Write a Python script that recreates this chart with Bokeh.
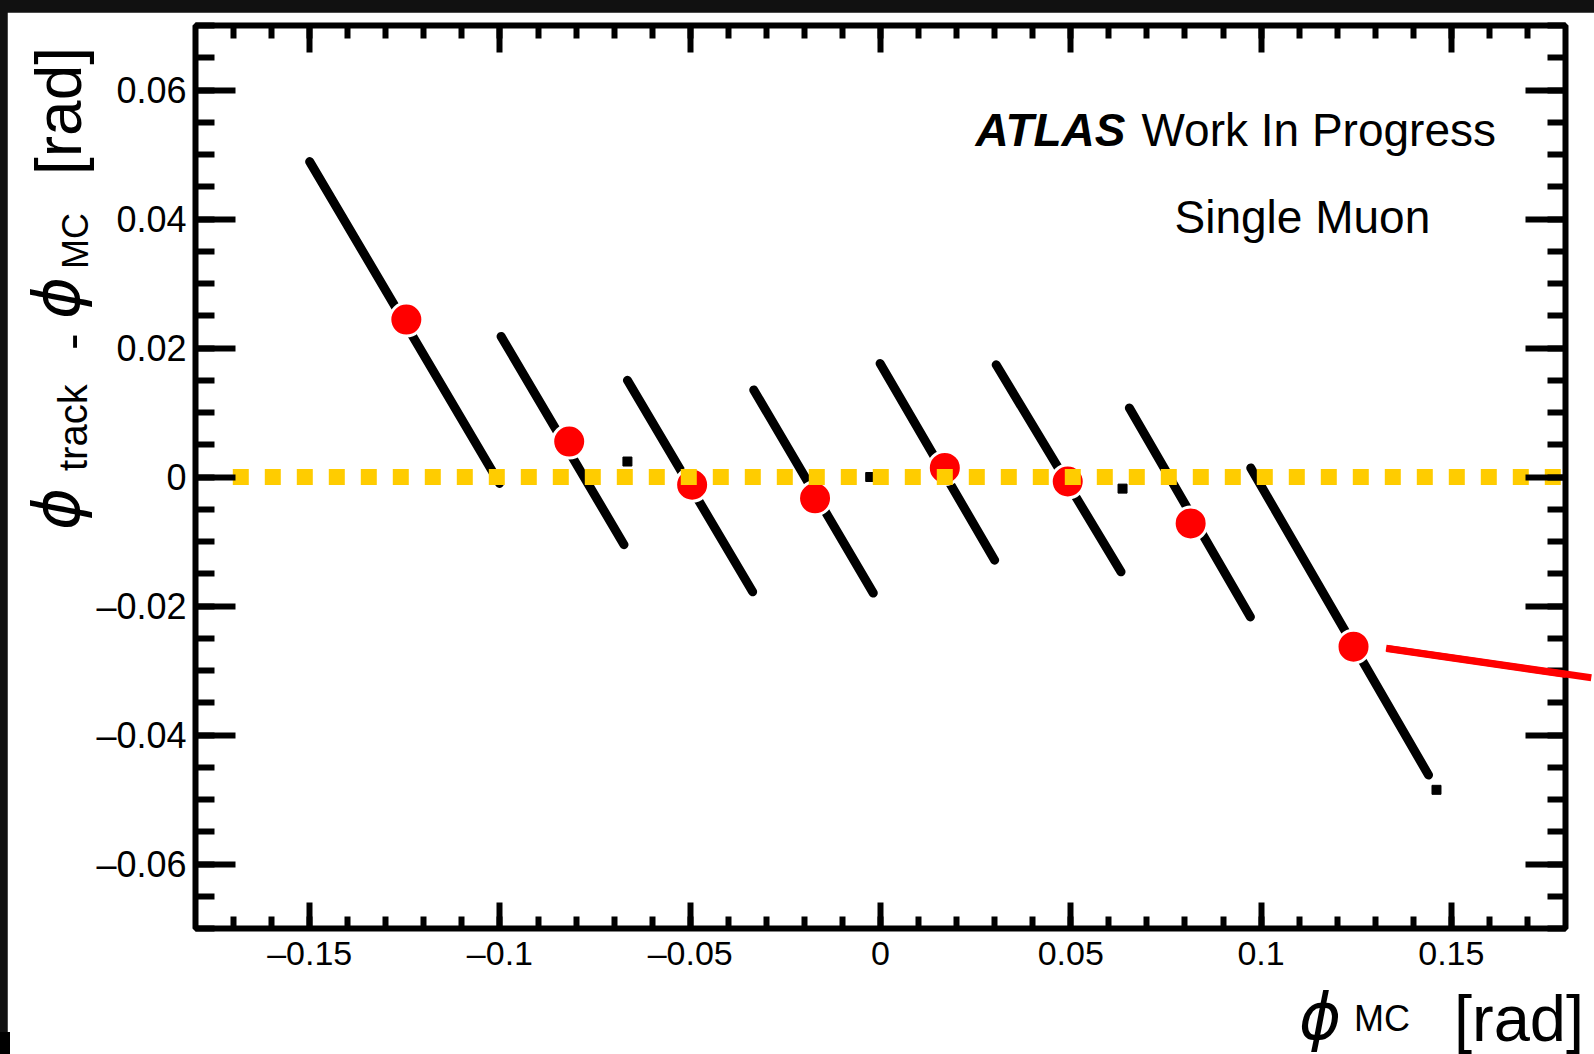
import math
from bokeh.plotting import figure
from bokeh.models import (Range1d, LinearAxis, SingleIntervalTicker, CustomJSTickFormatter,
                          Label, Arrow, ColumnDataSource, Div)
from bokeh.layouts import column
from bokeh.embed import file_html
from bokeh.resources import INLINE

# ---------------- data ----------------
# black bands of reconstructed tracks: start / end of each band
streak_x0 = [-0.1500, -0.0997, -0.0665, -0.0333, -0.0001, 0.0304, 0.0654, 0.0973]
streak_y0 = [0.0489, 0.0218, 0.0150, 0.0135, 0.0176, 0.0174, 0.0107, 0.0014]
streak_x1 = [-0.1001, -0.0674, -0.0336, -0.0019, 0.0300, 0.0632, 0.0972, 0.1440]
streak_y1 = [-0.0010, -0.0105, -0.0178, -0.0180, -0.0129, -0.0147, -0.0217, -0.0462]
# isolated entries
stray_x = [-0.0665, -0.0027, 0.0636, 0.1461]
stray_y = [0.0024, 0.0000, -0.0018, -0.0485]
# red markers (band centres)
mean_x = [-0.1246, -0.0818, -0.0495, -0.0172, 0.0169, 0.0492, 0.0815, 0.1243]
mean_y = [0.0244, 0.0055, -0.0012, -0.0033, 0.0014, -0.0007, -0.0072, -0.0263]
# yellow dotted reference line at zero
ref_x = [-0.1702, 0.18]
ref_y = [0.0, 0.0]
# red pointer line
pointer_x = [0.1330, 0.1869]
pointer_y = [-0.0266, -0.0312]

x_ticks_interval = 0.05
y_ticks_interval = 0.02

# ---------------- layout helpers (page pixels <-> data) ----------------
FL, FR, FT, FB = 195, 1565, 25, 928
XMIN, XMAX, YMIN, YMAX = -0.18, 0.18, -0.07, 0.07
PAGE_W, PAGE_H = 1594, 1054


def X(px):
    return XMIN + (px - FL) * (XMAX - XMIN) / (FR - FL)


def Y(py):
    return YMAX - (py - FT) * (YMAX - YMIN) / (FB - FT)


def PX(x):
    return FL + (x - XMIN) / (XMAX - XMIN) * (FR - FL)


def PY(y):
    return FT + (YMAX - y) / (YMAX - YMIN) * (FB - FT)


OX, OY = 7, 12  # dark strips of the screenshot
W, H = PAGE_W - OX, PAGE_H - OY

p = figure(width=W, height=H, x_range=Range1d(XMIN, XMAX), y_range=Range1d(YMIN, YMAX),
           output_backend="svg", toolbar_location=None,
           x_axis_location=None, y_axis_location=None,
           min_border_left=FL - OX, min_border_right=PAGE_W - FR,
           min_border_top=FT - OY, min_border_bottom=PAGE_H - FB)
p.xgrid.visible = False
p.ygrid.visible = False
p.background_fill_color = "white"
p.border_fill_color = "white"
p.outline_line_color = "black"
p.outline_line_width = 6
p.margin = (OY, 0, 0, OX)

fmt = CustomJSTickFormatter(code="""
const s = String(parseFloat(tick.toFixed(3)));
return s.replace('-', '\\u2013');
""")
blank = CustomJSTickFormatter(code="return '';")


def make_axis(interval, nminor, major_in, minor_in, labelled, standoff, size):
    ax = LinearAxis(ticker=SingleIntervalTicker(interval=interval, num_minor_ticks=nminor),
                    formatter=fmt if labelled else blank)
    ax.axis_line_color = None
    ax.major_tick_line_color = "black"
    ax.minor_tick_line_color = "black"
    ax.major_tick_line_width = 6
    ax.minor_tick_line_width = 6
    ax.major_tick_out = 0
    ax.minor_tick_out = 0
    ax.major_tick_in = major_in
    ax.minor_tick_in = minor_in
    ax.major_label_standoff = standoff if labelled else 0
    ax.major_label_text_font = "Liberation Sans"
    ax.major_label_text_font_size = size if labelled else "0px"
    ax.major_label_text_color = "black"
    return ax


p.add_layout(make_axis(x_ticks_interval, 5, 26, 12, True, 5, "34px"), "below")
p.add_layout(make_axis(x_ticks_interval, 5, 27, 13, False, 0, "0px"), "above")
p.add_layout(make_axis(y_ticks_interval, 4, 40, 19, True, 9, "36px"), "left")
p.add_layout(make_axis(y_ticks_interval, 4, 40, 18, False, 0, "0px"), "right")

# ---------------- glyphs ----------------
src = ColumnDataSource(dict(x0=streak_x0, y0=streak_y0, x1=streak_x1, y1=streak_y1))
p.segment(x0="x0", y0="y0", x1="x1", y1="y1", source=src, line_color="black",
          line_width=9, line_cap="round")
p.scatter(stray_x, stray_y, marker="square", size=9, fill_color="black", line_color="black")
p.scatter(mean_x, mean_y, marker="circle", size=33, fill_color="#FF0000",
          line_color="white", line_width=3)
p.line(ref_x, ref_y, line_color="#FFCC00", line_width=16, line_dash="16 16", line_cap="butt")

p.add_layout(Arrow(end=None, x_start=pointer_x[0], y_start=pointer_y[0],
                   x_end=pointer_x[1], y_end=pointer_y[1],
                   line_color="#FF0000", line_width=7))


# ---------------- in-frame texts ----------------
def lab(px, py, text, size, style="normal", align="left"):
    p.add_layout(Label(x=X(px), y=Y(py), text=text, text_font="Liberation Sans",
                       text_font_style=style, text_font_size=size, text_align=align,
                       text_baseline="alphabetic", text_color="black"))


lab(1125, 129, "ATLAS", "46px", style="bold italic", align="right")
lab(1141, 129, "Work In Progress", "46px")
lab(1174, 216, "Single Muon", "46px")

# ---------------- axis titles (outside the frame) as an HTML overlay ----------------
ASC = 0.846  # baseline offset from the top of a line-height:1 box (Liberation / DejaVu)


def piece(text, left, baseline, size, font="Liberation Sans", italic=False):
    style = "italic" if italic else "normal"
    return (f'<div style="position:absolute;left:{left}px;top:{baseline - ASC * size:.1f}px;'
            f"font-family:'{font}';font-style:{style};font-size:{size}px;line-height:1;"
            f'white-space:nowrap;color:#000;">{text}</div>')


def vpiece(text, baseline_x, start_y, size, font="Liberation Sans", italic=False):
    style = "italic" if italic else "normal"
    return (f'<div style="position:absolute;left:{baseline_x - ASC * size:.1f}px;top:{start_y}px;'
            f"font-family:'{font}';font-style:{style};font-size:{size}px;line-height:1;"
            f'white-space:nowrap;color:#000;transform-origin:0 0;transform:rotate(-90deg);">'
            f'{text}</div>')


PHI = "&#x3D5;"
parts = []
# x title
parts.append(piece(PHI, 1299, 1039, 64, font="DejaVu Sans", italic=True))
parts.append(piece("MC", 1354, 1031, 36))
parts.append(piece("[rad]", 1454, 1041, 65))
# y title (reads bottom to top)
parts.append(vpiece(PHI, 79, 530, 64, font="DejaVu Sans", italic=True))
parts.append(vpiece("track", 87, 471, 40))
parts.append(vpiece("-", 88, 350, 50))
parts.append(vpiece(PHI, 79, 319, 64, font="DejaVu Sans", italic=True))
parts.append(vpiece("MC", 88, 269, 36))
parts.append(vpiece("[rad]", 81, 175, 64))

# continuation of the red pointer beyond the frame (from the pointer data)
parts.append(
    f'<svg style="position:absolute;left:0;top:0;" width="{PAGE_W}" height="{PAGE_H}">'
    f'<line x1="{PX(pointer_x[0]):.1f}" y1="{PY(pointer_y[0]):.1f}" '
    f'x2="{PX(pointer_x[1]):.1f}" y2="{PY(pointer_y[1]):.1f}" '
    f'stroke="#FF0000" stroke-width="7"/></svg>')
# small dark block at the bottom-left corner of the screenshot
parts.append('<div style="position:absolute;left:0;top:1032px;width:10px;height:22px;'
             'background:#000;"></div>')

overlay_html = (f'<div style="position:relative;width:{PAGE_W}px;height:{PAGE_H}px;">'
                + "".join(parts) + "</div>")
overlay = Div(text=overlay_html, width=PAGE_W, height=PAGE_H, margin=(-PAGE_H, 0, 0, 0))

layout = column(p, overlay, styles={"background-color": "#111111"})
open("out.html", "w").write(file_html(layout, INLINE))
